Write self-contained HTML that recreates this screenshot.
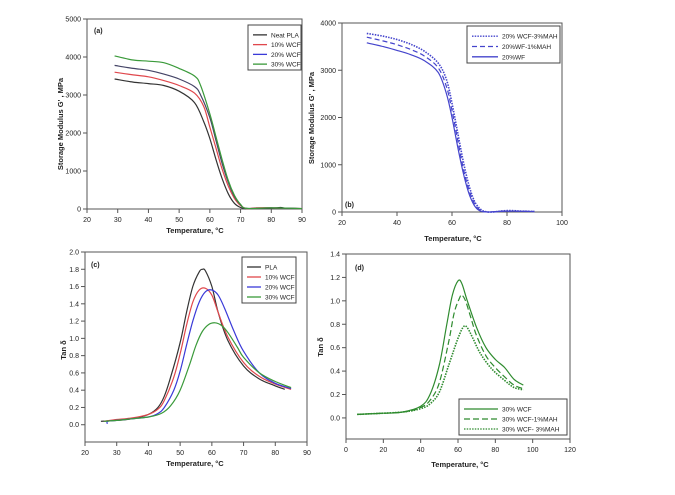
<!DOCTYPE html>
<html><head><meta charset="utf-8"><style>
html,body{margin:0;padding:0;background:#fff;}
svg{display:block;font-family:"Liberation Sans",sans-serif;}
</style></head><body>
<svg id="fig" width="675" height="495" viewBox="0 0 675 495" xmlns="http://www.w3.org/2000/svg"></svg>
<script>
// ---- Panel (a) data: storage modulus vs temperature ----
const aTemps = {
 pla:[29,35,40,45,50,55,58,60,62,64,66,68,70,72,75,80,83,85,90],
 w10:[29,35,40,45,50,55,58,60,62,64,66,68,70,72,75,80,90],
 w20:[29,35,40,45,50,55,57,60,62,64,66,68,70,72,80,90],
 w30:[29,35,40,45,50,55,57,60,62,64,66,68,70,72,80,90]};
const aPLA = [3420,3340,3300,3250,3100,2800,2300,1850,1300,800,400,150,40,5,20,20,40,20,10];
const a10 = [3600,3530,3480,3380,3250,3050,2700,2150,1600,1050,600,280,90,10,30,30,10];
const a20 = [3780,3700,3650,3550,3420,3220,3000,2400,1800,1200,700,330,110,15,30,10];
const a30 = [4030,3920,3890,3850,3700,3500,3250,2500,1900,1300,750,360,120,15,30,10];
// ---- Panel (b) data ----
const bTemps3 = [29,35,40,45,50,55,58,60,62,64,66,68,70,72,75,80,85,90];
const b3 = [3780,3720,3650,3550,3400,3150,2800,2300,1700,1100,600,250,80,10,0,30,20,10];
const bTemps = [29,35,40,45,50,55,58,60,62,64,66,68,70,73,80,90];
const b1 = [3700,3620,3540,3440,3300,3050,2650,2150,1550,950,500,200,50,0,20,10];
const b0 = [3580,3500,3420,3330,3200,2950,2500,2000,1400,850,420,150,30,0,20,10];
// ---- Panel (c) data: tan delta ----
const cTpla = [25,30,35,40,43,45,47,50,52,54,56,57,58,60,62,65,70,75,80,83];
const cPLA = [0.04,0.05,0.07,0.12,0.2,0.33,0.55,0.95,1.3,1.6,1.77,1.8,1.78,1.6,1.3,0.98,0.68,0.53,0.45,0.41];
const cT10 = [26,30,35,40,43,45,48,50,52,54,56,58,60,62,65,70,75,80,85];
const c10 = [0.04,0.06,0.08,0.12,0.18,0.28,0.55,0.82,1.15,1.42,1.56,1.58,1.5,1.3,1.02,0.72,0.56,0.47,0.41];
const cT20 = [27,27.2,30,35,40,43,45,48,50,52,54,56,58,60,62,64,67,70,75,80,85];
const c20 = [0.01,0.04,0.05,0.07,0.09,0.13,0.2,0.4,0.62,0.92,1.2,1.42,1.54,1.56,1.5,1.35,1.08,0.85,0.6,0.48,0.42];
const cT30 = [26,30,35,40,44,47,50,53,55,57,59,61,63,65,68,70,75,80,85];
const c30 = [0.04,0.05,0.07,0.09,0.13,0.22,0.4,0.7,0.92,1.08,1.16,1.18,1.15,1.07,0.9,0.78,0.6,0.5,0.43];
// ---- Panel (d) data ----
const dT0 = [6,20,30,40,45,50,54,57,60,62,65,70,75,80,85,90,95];
const d0 = [0.03,0.04,0.05,0.1,0.2,0.45,0.8,1.05,1.17,1.15,1.0,0.77,0.6,0.5,0.43,0.33,0.28];
const dT1 = [6,30,40,45,50,55,58,61,62,64,67,70,75,80,85,90,95];
const d1 = [0.03,0.05,0.09,0.15,0.3,0.65,0.9,1.03,1.05,1.0,0.85,0.7,0.53,0.43,0.35,0.28,0.25];
const dT3 = [6,30,40,45,50,55,60,63,65,68,72,78,85,90,95];
const d3 = [0.03,0.05,0.08,0.12,0.22,0.45,0.68,0.78,0.77,0.68,0.55,0.42,0.32,0.26,0.24];

const aXTicks=[20,30,40,50,60,70,80,90], aYTicks=[0,1000,2000,3000,4000,5000];
const bXTicks=[20,40,60,80,100], bYTicks=[0,1000,2000,3000,4000];
const cXTicks=[20,30,40,50,60,70,80,90], cYTicks=[0,0.2,0.4,0.6,0.8,1.0,1.2,1.4,1.6,1.8,2.0];
const dXTicks=[0,20,40,60,80,100,120], dYTicks=[0,0.2,0.4,0.6,0.8,1.0,1.2,1.4];

const NS="http://www.w3.org/2000/svg";
const svg=document.getElementById('fig');
function mk(tag,attrs,parent){const e=document.createElementNS(NS,tag);for(const k in attrs)e.setAttribute(k,attrs[k]);(parent||svg).appendChild(e);return e;}
function txt(s,x,y,size,parent,anchor,weight,rot){const t=mk('text',{x:x,y:y,'font-size':size,'text-anchor':anchor||'middle',fill:'#222'},parent);if(weight)t.setAttribute('font-weight',weight);if(rot)t.setAttribute('transform','rotate(-90 '+x+' '+y+')');t.textContent=s;return t;}

function panel(name,box,xd,yd,xt,yt,fmt){
 const g=mk('g',{});
 
 
 const sx=v=>box.l+(v-xd[0])/(xd[1]-xd[0])*(box.r-box.l);
 const sy=v=>box.b-(v-yd[0])/(yd[1]-yd[0])*(box.b-box.t);
 const f=mk('rect',{x:box.l,y:box.t,width:box.r-box.l,height:box.b-box.t,fill:'none',stroke:'#555','stroke-width':1},g);
 
 
 xt.forEach(v=>{const x=sx(v);mk('line',{x1:x,x2:x,y1:box.b,y2:box.b+4,stroke:'#555'},g);const t=txt(String(v),x,box.b+13,7,g);});
 yt.forEach(v=>{const y=sy(v);mk('line',{x1:box.l-4,x2:box.l,y1:y,y2:y,stroke:'#555'},g);const t=txt(fmt(v),box.l-6,y+2.5,7,g,'end');});
 return {g,sx,sy};
}
function series(p,name,xs,ys,color,dash,w){
 const P=xs.map((x,i)=>[p.sx(x),p.sy(ys[i])]);
 let d='M'+P[0][0].toFixed(1)+' '+P[0][1].toFixed(1);
 for(let i=0;i<P.length-1;i++){
  const p0=P[i-1]||P[i],p1=P[i],p2=P[i+1],p3=P[i+2]||P[i+1];
  const c1=[p1[0]+(p2[0]-p0[0])/6,p1[1]+(p2[1]-p0[1])/6];
  const c2=[p2[0]-(p3[0]-p1[0])/6,p2[1]-(p3[1]-p1[1])/6];
  d+=' C'+c1[0].toFixed(1)+' '+c1[1].toFixed(1)+' '+c2[0].toFixed(1)+' '+c2[1].toFixed(1)+' '+p2[0].toFixed(1)+' '+p2[1].toFixed(1);
 }
 const e=mk('path',{d:d,fill:'none',stroke:color,'stroke-width':w||1.2,'stroke-linejoin':'round'},p.g);
 if(dash)e.setAttribute('stroke-dasharray',dash);
 
 
}
function legend(p,name,x,y,w,h,items,lineLen,size){
 const lg=mk('g',{},p.g);
 
 
 mk('rect',{x:x,y:y,width:w,height:h,fill:'#fff',stroke:'#444','stroke-width':1},lg);
 const step=(h-6)/items.length;
 items.forEach((it,i)=>{const yy=y+5+step*(i+0.5);
  const l=mk('line',{x1:x+5,x2:x+5+lineLen,y1:yy,y2:yy,stroke:it[1],'stroke-width':1.3},lg);
  if(it[2])l.setAttribute('stroke-dasharray',it[2]);
  const t=txt(it[0],x+9+lineLen,yy+2.5,size,lg,'start');});
}
const BK='#333',RD='#e0474c',BL='#3a3ad8',GR='#3a9a3a',DG='#2e8b2e',PB='#4444cc';
const int=v=>String(v), one=v=>v.toFixed(1);

// Panel a
const pa=panel('panel-a-storage-modulus',{l:87,r:302,t:19,b:209},[20,90],[0,5000],aXTicks,aYTicks,int);
series(pa,'neat-pla-line',aTemps.pla,aPLA,BK);
series(pa,'wcf10-line',aTemps.w10,a10,RD);
series(pa,'wcf20-line',aTemps.w20,a20,'#444466');
series(pa,'wcf30-line',aTemps.w30,a30,GR);
legend(pa,'legend-a',248,25,53,45,[['Neat PLA',BK],['10% WCF',RD],['20% WCF',BL],['30% WCF',GR]],14,6.5);
txt('(a)',94,33,7,pa.g,'start','bold');
txt('Temperature, °C',195,233,7.5,pa.g,'middle','bold');
txt("Storage Modulus G' , MPa",63,124,7.5,pa.g,'middle','bold',true);

// Panel b
const pb=panel('panel-b-storage-modulus',{l:342,r:562,t:23,b:212},[20,100],[0,4000],bXTicks,bYTicks,int);
series(pb,'wcf20-3mah-line',bTemps3,b3,PB,'1.5 1.2',1.6);
series(pb,'wf20-1mah-line',bTemps,b1,PB,'5 3');
series(pb,'wf20-line',bTemps,b0,PB);
legend(pb,'legend-b',467,26,93,37,[['20% WCF-3%MAH',PB,'1.5 1.2'],['20%WF-1%MAH',PB,'5 3'],['20%WF',PB]],26,6.5);
txt('(b)',345,207,7,pb.g,'start','bold');
txt('Temperature, °C',453,241,7.5,pb.g,'middle','bold');
txt("Storage Modulus G' , MPa",314,118,7.5,pb.g,'middle','bold',true);

// Panel c
const pc=panel('panel-c-tan-delta',{l:85,r:307,t:252,b:442},[20,90],[-0.2,2.0],cXTicks,cYTicks,one);
series(pc,'pla-tan-line',cTpla,cPLA,BK);
series(pc,'wcf10-tan-line',cT10,c10,RD);
series(pc,'wcf20-tan-line',cT20,c20,BL);
series(pc,'wcf30-tan-line',cT30,c30,GR);
legend(pc,'legend-c',242,257,54,46,[['PLA',BK],['10% WCF',RD],['20% WCF',BL],['30% WCF',GR]],14,6.5);
txt('(c)',91,267,7,pc.g,'start','bold');
txt('Temperature, °C',195,466,7.5,pc.g,'middle','bold');
txt('Tan δ',66,350,7.5,pc.g,'middle','bold',true);

// Panel d
const pd=panel('panel-d-tan-delta',{l:346,r:570,t:254,b:439},[0,120],[-0.18,1.4],dXTicks,dYTicks,one);
series(pd,'wcf30-tan-line-d',dT0,d0,DG);
series(pd,'wcf30-1mah-tan-line',dT1,d1,DG,'6 3');
series(pd,'wcf30-3mah-tan-line',dT3,d3,DG,'1.5 1.2',1.6);
legend(pd,'legend-d',459,399,108,36,[['30% WCF',DG],['30% WCF-1%MAH',DG,'6 3'],['30% WCF- 3%MAH',DG,'1.5 1.2']],34,6.5);
txt('(d)',355,270,7,pd.g,'start','bold');
txt('Temperature, °C',460,467,7.5,pd.g,'middle','bold');
txt('Tan δ',323,347,7.5,pd.g,'middle','bold',true);
</script>
</body></html>
